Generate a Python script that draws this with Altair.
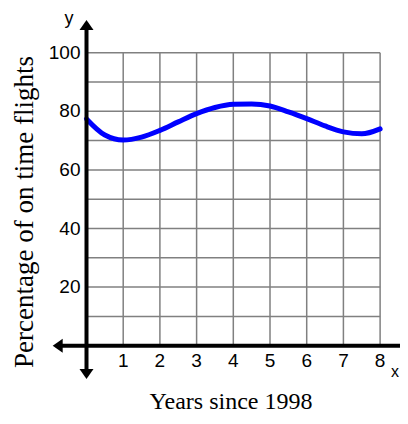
import altair as alt
import pandas as pd

# ---- data ----
years = [0, 0.5, 1, 1.5, 2, 2.5, 3, 3.5, 4, 4.5, 5, 5.5, 6, 6.5, 7, 7.5, 8]
percent = [77.4, 71.9, 70.2, 71.2, 73.5, 76.4, 79.2, 81.3, 82.4, 82.5, 81.8, 79.8,
           77.5, 75.0, 73.0, 72.3, 74.0]
x_tick_values = [1, 2, 3, 4, 5, 6, 7, 8]
y_tick_values = [20, 40, 60, 80, 100]
grid_x_values = [1, 2, 3, 4, 5, 6, 7, 8]
grid_y_values = [10, 20, 30, 40, 50, 60, 70, 80, 90, 100]
x_title = "Years since 1998"
y_title = "Percentage of on time flights"

W, H = 392, 408
X_DOMAIN = [-2.139, 8.542]
Y_DOMAIN = [-23.99, 115.26]

xs = alt.Scale(domain=X_DOMAIN, nice=False, zero=False)
ys = alt.Scale(domain=Y_DOMAIN, nice=False, zero=False)


def X(field):
    return alt.X(field, type="quantitative", scale=xs, axis=None)


def Y(field):
    return alt.Y(field, type="quantitative", scale=ys, axis=None)


curve_df = pd.DataFrame({"x": years, "y": percent})
vgrid_df = pd.DataFrame({"x": grid_x_values, "y0": 0, "y1": 100})
hgrid_df = pd.DataFrame({"y": grid_y_values, "x0": 0, "x1": 8})
xlab_df = pd.DataFrame({"x": x_tick_values, "y": 0, "t": [str(v) for v in x_tick_values]})
ylab_df = pd.DataFrame({"y": y_tick_values, "x": 0, "t": [str(v) for v in y_tick_values]})

vgrid = alt.Chart(vgrid_df).mark_rule(color="#808080", strokeWidth=1.5).encode(
    x=X("x"), y=Y("y0"), y2="y1")
hgrid = alt.Chart(hgrid_df).mark_rule(color="#808080", strokeWidth=1.5).encode(
    y=Y("y"), x=X("x0"), x2="x1")

axes_df = pd.DataFrame({
    "x0": [-0.75, 0], "x1": [8.7, 0],
    "y0": [0, -9.3], "y1": [0, 109.0]})
axes = alt.Chart(axes_df).mark_rule(color="black", strokeWidth=4).encode(
    x=X("x0"), x2="x1", y=Y("y0"), y2="y1")

arrow_df = pd.DataFrame({
    "x": [0, 0, -0.785, 8.76],
    "y": [109.5, -9.66, 0, 0],
    "a": [0, 180, 270, 90]})
arrows = alt.Chart(arrow_df).mark_point(
    shape="M0,-1L1.4,1L-1.4,1Z", filled=True, color="black", opacity=1, size=100,
    strokeWidth=0).encode(x=X("x"), y=Y("y"), angle=alt.Angle("a:Q", scale=None))

curve = alt.Chart(curve_df).mark_line(
    color="#0000FF", strokeWidth=5, interpolate="monotone", strokeCap="round").encode(
    x=X("x"), y=Y("y"))

xlabels = alt.Chart(xlab_df).mark_text(
    font="Liberation Sans", fontSize=19, dy=15, baseline="middle", align="center").encode(
    x=X("x"), y=Y("y"), text="t:N")
ylabels = alt.Chart(ylab_df).mark_text(
    font="Liberation Sans", fontSize=19, dx=-6, baseline="middle", align="right").encode(
    x=X("x"), y=Y("y"), text="t:N")

ylet = alt.Chart(pd.DataFrame({"t": ["y"]})).mark_text(
    font="Liberation Sans", fontSize=18, baseline="middle", align="center").encode(
    x=alt.value(61), y=alt.value(11), text="t:N")
xlet = alt.Chart(pd.DataFrame({"t": ["x"]})).mark_text(
    font="Liberation Sans", fontSize=16, baseline="middle", align="left").encode(
    x=alt.value(383), y=alt.value(364), text="t:N")

xt = alt.Chart(pd.DataFrame({"t": [x_title]})).mark_text(
    font="Liberation Serif", fontSize=24, baseline="alphabetic", align="center").encode(
    x=alt.value(223), y=alt.value(401), text="t:N")
yt = alt.Chart(pd.DataFrame({"t": [y_title]})).mark_text(
    font="Liberation Serif", fontSize=27, baseline="middle", align="center",
    angle=270).encode(
    x=alt.value(17), y=alt.value(204), text="t:N")

chart = alt.layer(vgrid, hgrid, curve, axes, arrows, xlabels, ylabels, ylet, xlet, xt, yt).properties(
    width=W, height=H, padding=0, autosize=alt.AutoSizeParams(type="none")
).configure_view(stroke=None)

chart.save("out.html", embed_options={"renderer": "svg", "actions": False})
